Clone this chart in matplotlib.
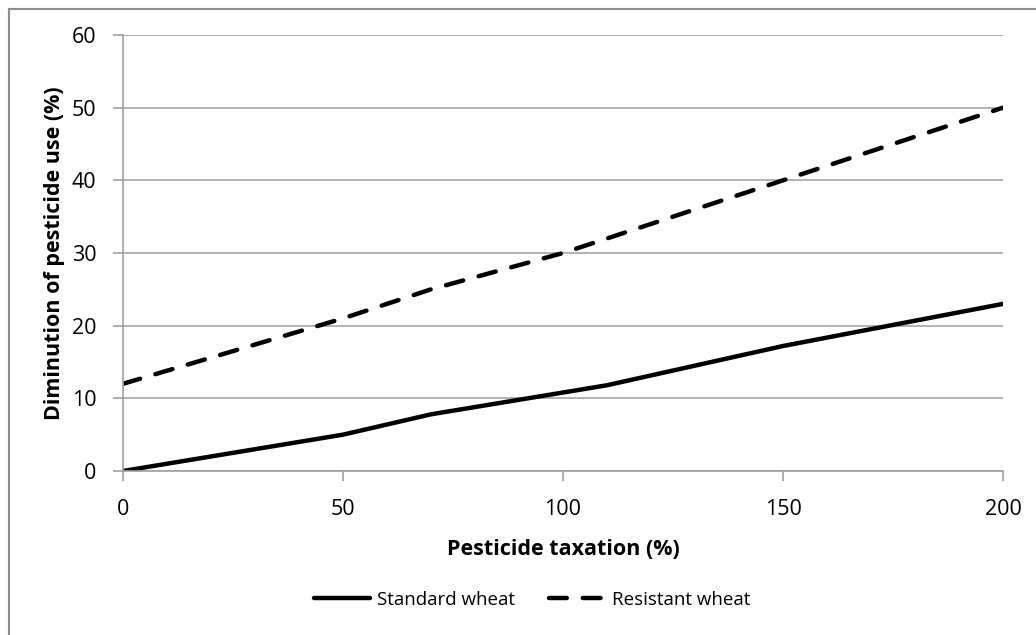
import numpy as np
import matplotlib.pyplot as plt
from matplotlib.lines import Line2D

# Datos
taxation_std = [0, 50, 70, 110, 150, 200]
standard_wheat = [0, 5, 7.8, 11.8, 17.2, 23]

taxation_res = [0, 50, 70, 100, 150, 200]
resistant_wheat = [12, 21, 25, 30, 40, 50]

xticks = [0, 50, 100, 150, 200]
yticks = [0, 10, 20, 30, 40, 50, 60]

plt.rcParams['font.family'] = ['Open Sans', 'DejaVu Sans']

fig = plt.figure(figsize=(10.36, 6.35), dpi=100)
W, H = 1036, 635
# area del grafico en pixeles: x 123-1003, y 35-471
ax = fig.add_axes([123 / W, 1 - 471 / H, 880 / W, 436 / H])

ax.plot(taxation_std, standard_wheat, color='black', lw=3.2,
        solid_capstyle='round', solid_joinstyle='round', label='Standard wheat')
ax.plot(taxation_res, resistant_wheat, color='black', lw=3.2,
        dashes=(4, 3.6), dash_capstyle='round', label='Resistant wheat')

ax.set_xlim(0, 200)
ax.set_ylim(0, 60)
ax.set_xticks(xticks)
ax.set_yticks(yticks)
ax.grid(axis='y', color='#a6a6a6', lw=1.2)
ax.set_axisbelow(True)
for s in ['top', 'right']:
    ax.spines[s].set_visible(False)
for s in ['left', 'bottom']:
    ax.spines[s].set_color('#a0a0a0')
    ax.spines[s].set_linewidth(1.2)
ax.tick_params(axis='both', colors='#a0a0a0', length=7, width=1.2,
               labelcolor='black', labelsize=15.5)
ax.tick_params(axis='x', pad=13)
ax.tick_params(axis='y', pad=12)

ax.set_xlabel('Pesticide taxation (%)', fontsize=15.5, fontweight='bold', labelpad=14)
ax.set_ylabel('Diminution of pesticide use (%)', fontsize=15.5, fontweight='bold', labelpad=5)

leg = fig.legend(loc='center', bbox_to_anchor=(532 / W, 1 - 600 / H), ncol=2,
                 frameon=False, fontsize=13.5, handlelength=3.0,
                 handletextpad=0.35, columnspacing=1.8)

# borde del grafico (solo arriba e izquierda)
fig.add_artist(Line2D([9 / W, 1], [1 - 9 / H, 1 - 9 / H], transform=fig.transFigure,
                      color='#8c8c8c', lw=1.5))
fig.add_artist(Line2D([9 / W, 9 / W], [0, 1 - 9 / H], transform=fig.transFigure,
                      color='#8c8c8c', lw=1.5))

fig.savefig('out.png', dpi=100)
